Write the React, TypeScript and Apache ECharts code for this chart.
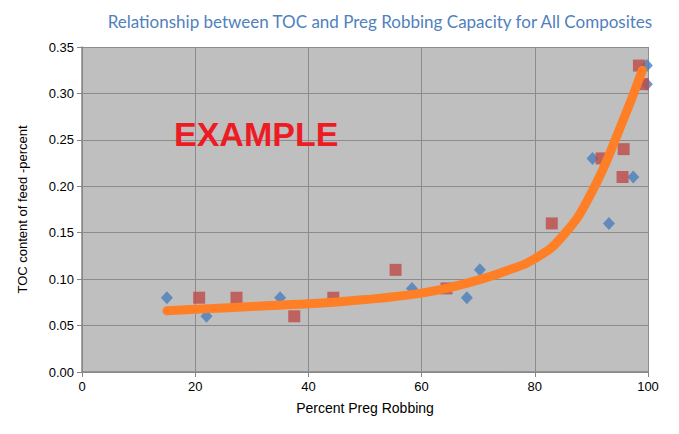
import React, { useEffect, useRef } from "react";
import * as echarts from "echarts";

const titleText = "Relationship between TOC and Preg Robbing Capacity for All Composites";
const xAxisName = "Percent Preg Robbing";
const yAxisName = "TOC content of feed -percent";
const watermark = "EXAMPLE";

const blueX = [15, 22, 35, 58.3, 68, 70.3, 90.2, 93.1, 97.4, 99.8, 99.8];
const blueY = [0.08, 0.06, 0.08, 0.09, 0.08, 0.11, 0.23, 0.16, 0.21, 0.33, 0.31];

const redX = [20.7, 27.3, 37.5, 44.4, 55.4, 64.4, 83.0, 91.8, 95.7, 95.5, 98.4, 99.1];
const redY = [0.08, 0.08, 0.06, 0.08, 0.11, 0.09, 0.16, 0.23, 0.24, 0.21, 0.33, 0.31];

const trendX = [15, 20, 25, 30, 35, 40, 45, 50, 55, 60, 65, 70, 75, 80, 85, 90, 95, 99];
const trendY = [0.066, 0.0675, 0.069, 0.0705, 0.072, 0.0735, 0.0755, 0.078, 0.081, 0.085, 0.091, 0.099, 0.109, 0.122, 0.147, 0.193, 0.262, 0.325];

const zip = (a: number[], b: number[]) => a.map((v, i) => [v, b[i]]);

export default function App() {
  const ref = useRef<HTMLDivElement>(null);
  useEffect(() => {
    const chart = echarts.init(ref.current!, null, { renderer: "svg" });
    const axisFont = { fontFamily: "Liberation Sans, Arial", fontSize: 13, color: "#000" };
    chart.setOption({
      animation: false,
      backgroundColor: "#fff",
      title: {
        text: titleText,
        right: 12,
        top: 0,
        textStyle: { fontFamily: "Lato", fontWeight: "normal", fontSize: 17, color: "#4F81BD" },
      },
      graphic: [
        {
          type: "text",
          left: 166,
          top: 109,
          style: {
            text: watermark,
            fontFamily: "Liberation Sans, Arial",
            fontWeight: "bold",
            fontSize: 34,
            fill: "#ED1C24",
          },
          z: 10,
        },
      ],
      grid: { left: 64, right: 23, top: 39, bottom: 54, backgroundColor: "#BFBFBF", show: true, borderWidth: 0 },
      xAxis: {
        type: "value",
        min: 0,
        max: 100,
        interval: 20,
        name: xAxisName,
        nameLocation: "middle",
        nameGap: 29,
        nameTextStyle: { ...axisFont, fontSize: 14 },
        axisLine: { show: true, onZero: false, lineStyle: { color: "#868686", width: 1.5 } },
        axisTick: { show: true, length: 5, lineStyle: { color: "#868686" } },
        axisLabel: { ...axisFont, margin: 8 },
        splitLine: { show: true, lineStyle: { color: "#8C8C8C", width: 1 } },
      },
      yAxis: {
        type: "value",
        min: 0,
        max: 0.35,
        interval: 0.05,
        name: yAxisName,
        nameLocation: "middle",
        nameGap: 53,
        nameTextStyle: axisFont,
        axisLine: { show: true, onZero: false, lineStyle: { color: "#868686", width: 1.5 } },
        axisTick: { show: true, length: 5, lineStyle: { color: "#868686" } },
        axisLabel: { ...axisFont, margin: 8, formatter: (v: number) => v.toFixed(2) },
        splitLine: { show: true, lineStyle: { color: "#8C8C8C", width: 1 } },
      },
      series: [
        {
          type: "scatter",
          data: zip(blueX, blueY),
          symbol: "diamond",
          symbolSize: [12, 13],
          itemStyle: { color: "#4A7EBB" },
          z: 2,
        },
        {
          type: "scatter",
          data: zip(redX, redY),
          symbol: "rect",
          symbolSize: 12,
          itemStyle: { color: "#BE4B48" },
          z: 3,
        },
        {
          type: "line",
          data: zip(trendX, trendY),
          smooth: 0.5,
          showSymbol: false,
          symbol: "none",
          lineStyle: { color: "#FF7F27", width: 9, cap: "round" },
          z: 5,
        },
      ],
    });
    return () => chart.dispose();
  }, []);
  return <div ref={ref} style={{ width: 663, height: 418 }} />;
}
